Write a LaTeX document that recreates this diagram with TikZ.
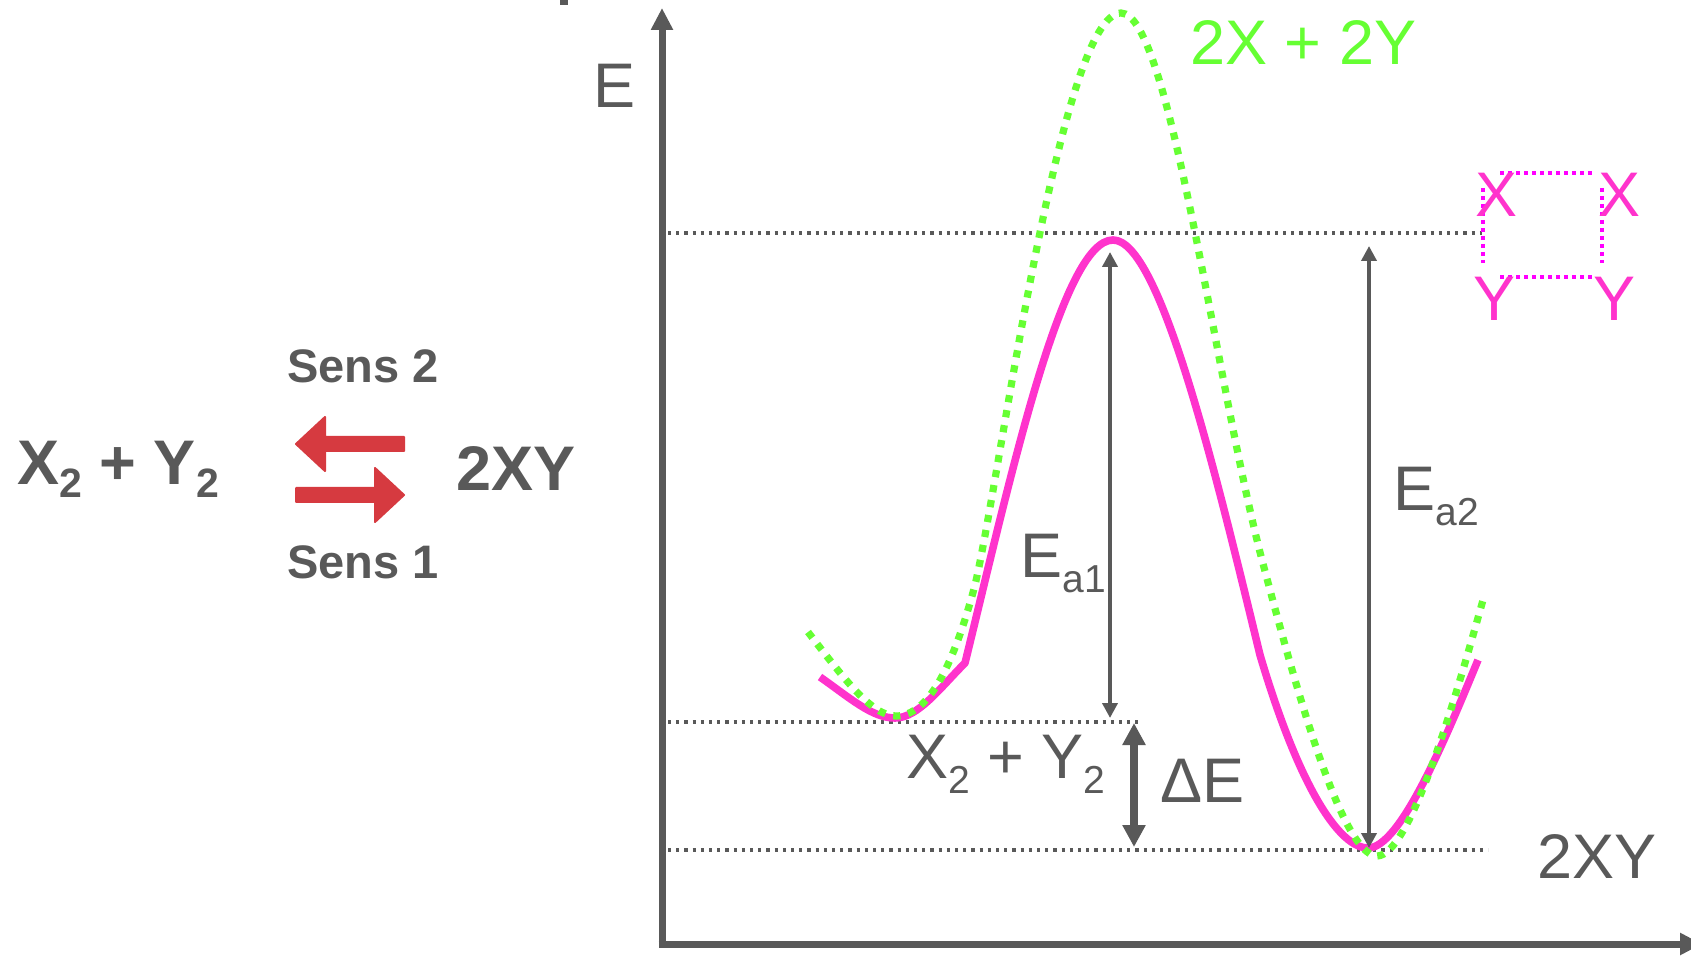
\documentclass[tikz,border=0pt]{standalone}
\usepackage{fontspec}
\setmainfont{Liberation Sans}
\usetikzlibrary{arrows.meta}
\definecolor{txtgray}{HTML}{595959}
\definecolor{curvemag}{HTML}{FF33CC}
\definecolor{dotmag}{HTML}{FF00FF}
\definecolor{curvegreen}{HTML}{66FF33}
\definecolor{arrred}{HTML}{D63A40}
\newcommand{\lsub}[1]{\raisebox{-7.5pt}{\fontsize{19.5}{20}\selectfont #1}}
\newcommand{\bsub}[1]{\raisebox{-6.5pt}{\fontsize{20.5}{21}\selectfont\bfseries #1}}
\begin{document}
\begin{tikzpicture}[x=0.5pt,y=-0.5pt,
  lbl/.style={inner sep=0pt, anchor=base west, text=txtgray, font=\fontsize{31.5}{36}\selectfont},
  blbl/.style={inner sep=0pt, anchor=base west, text=txtgray, font=\fontsize{31.5}{36}\selectfont\bfseries},
  senslbl/.style={inner sep=0pt, anchor=base west, text=txtgray, font=\fontsize{23.5}{28}\selectfont\bfseries},
  maglbl/.style={inner sep=0pt, anchor=base west, text=curvemag, font=\fontsize{31.5}{36}\selectfont},
  greenlbl/.style={inner sep=0pt, anchor=base west, text=curvegreen, font=\fontsize{31.5}{36}\selectfont},
  glevel/.style={draw=txtgray, line width=1.6pt, dash pattern=on 1.6pt off 2.5pt},
  magdot/.style={draw=dotmag, line width=2pt, dash pattern=on 2pt off 2pt},
  axisline/.style={draw=txtgray, line width=3.5pt, -{Triangle[length=11pt,width=10.5pt]}},
  thinarrow/.style={draw=txtgray, line width=2pt, {Triangle[length=7.5pt,width=7.5pt]}-{Triangle[length=7.5pt,width=7.5pt]}},
  thickarrow/.style={draw=txtgray, line width=4pt, {Triangle[length=11pt,width=11pt]}-{Triangle[length=11pt,width=11pt]}},
  magcurve/.style={draw=curvemag, line width=3.8pt, line join=round},
  greencurve/.style={draw=curvegreen, line width=3.6pt, dash pattern=on 3.6pt off 4pt},
  redarrow/.style={fill=arrred, draw=arrred, line width=1pt, line join=round}
]
\useasboundingbox (0,0) rectangle (1691,956);

% tiny mark at top
\fill[txtgray] (560,0) rectangle (568,5);

% axes
\coordinate (origin) at (662,944);
\coordinate (ytop) at (662,8);
\coordinate (xend) at (1702,944);
\draw[axisline] (662,947.5) -- (ytop);
\draw[axisline] (658.5,944) -- (xend);
\node[lbl] (elabel) at (593,108) {E};

% energy levels (dotted)
\coordinate (lvlTa) at (668,233);
\coordinate (lvlTb) at (1482,233);
\coordinate (lvlMa) at (668,722);
\coordinate (lvlMb) at (1138,722);
\coordinate (lvlBa) at (668,850);
\coordinate (lvlBb) at (1488,850);
\draw[glevel] (lvlTa) -- (lvlTb);
\draw[glevel] (lvlMa) -- (lvlMb);
\draw[glevel] (lvlBa) -- (lvlBb);

% magenta curve
\draw[magcurve] (820,677) .. controls (850,698) and (872,718) .. (895,718)
  .. controls (918,718) and (940,688) .. (965,663)
  .. controls (1010,480) and (1062,240) .. (1113,240)
  .. controls (1160,240) and (1215,470) .. (1260,655)
  .. controls (1300,790) and (1340,848) .. (1368,848)
  .. controls (1400,848) and (1445,740) .. (1478,660);

% green dotted curve
\draw[greencurve] (808,632) .. controls (845,680) and (872,716) .. (896,716)
  .. controls (930,716) and (955,660) .. (975,585)
  .. controls (1000,480) and (1060,13) .. (1121,13)
  .. controls (1170,13) and (1215,380) .. (1262,560)
  .. controls (1290,665) and (1340,856) .. (1377,856)
  .. controls (1410,856) and (1455,700) .. (1483,600);

% activated complex box
\draw[magdot] (1500,173) -- (1593,173);
\draw[magdot] (1500,277) -- (1593,277);
\draw[magdot] (1483,188) -- (1483,263);
\draw[magdot] (1602,188) -- (1602,263);
\node[maglbl] (xl) at (1475,217) {X};
\node[maglbl] (xr) at (1598,217) {X};
\node[maglbl] (yl) at (1473,321) {Y};
\node[maglbl] (yr) at (1593,321) {Y};

% energy arrows
\coordinate (ea1top) at (1110,252);
\coordinate (ea1bot) at (1110,718);
\coordinate (ea2top) at (1369,246);
\coordinate (ea2bot) at (1369,848);
\coordinate (detop) at (1134,723);
\coordinate (debot) at (1134,847);
\draw[thinarrow] (ea1top) -- (ea1bot);
\draw[thinarrow] (ea2top) -- (ea2bot);
\draw[thickarrow] (detop) -- (debot);

% labels
\node[greenlbl] (top2x2y) at (1190,65) {2X + 2Y};
\node[lbl] (ea1) at (1020,577) {E\lsub{a1}};
\node[lbl] (ea2) at (1393,510) {E\lsub{a2}};
\node[lbl] (react) at (906,778) {X\lsub{2} + Y\lsub{2}};
\node[lbl] (dE) at (1160,802) {ΔE};
\node[lbl] (prod) at (1537,878) {2XY};

% left equation
\node[blbl] (lreact) at (17,485) {X\bsub{2} + Y\bsub{2}};
\node[blbl] (lprod) at (456,491) {2XY};
\node[senslbl] (sens2) at (287,383) {Sens 2};
\node[senslbl] (sens1) at (287,578) {Sens 1};
\draw[redarrow] (296,444) -- (325,417) -- (325,437) -- (404,437) -- (404,451) -- (325,451) -- (325,471) -- cycle;
\draw[redarrow] (404,495) -- (375,468) -- (375,488) -- (296,488) -- (296,502) -- (375,502) -- (375,522) -- cycle;
\end{tikzpicture}
\end{document}
